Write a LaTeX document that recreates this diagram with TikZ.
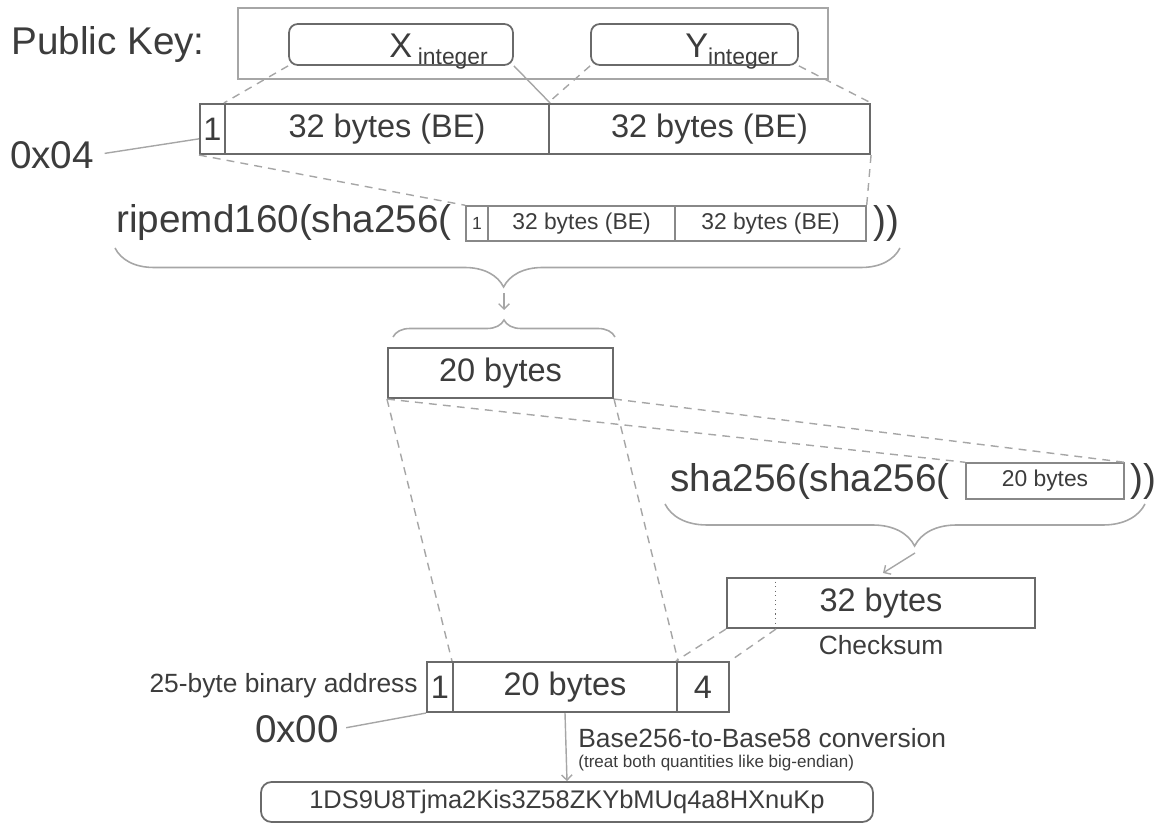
\documentclass[tikz,border=0pt]{standalone}
\usepackage{fontspec}
\setmainfont{Liberation Sans}
\usetikzlibrary{calc,arrows.meta,decorations.pathreplacing}

\definecolor{ink}{HTML}{3C3C3C}
\definecolor{frame}{HTML}{6A6A6A}
\definecolor{guide}{HTML}{A6A6A6}

\newcommand\subint[1]{\raisebox{-0.35ex}{\fontsize{13}{15}\selectfont #1}}

\begin{document}
\begin{tikzpicture}[x=0.02cm,y=-0.02cm,
	bigtext/.style={inner sep=0pt, text=ink, font=\fontsize{22}{26}\selectfont},
	labeltext/.style={inner sep=0pt, text=ink, font=\fontsize{15}{18}\selectfont},
	tinytext/.style={inner sep=0pt, text=ink, font=\fontsize{9.7}{12}\selectfont},
	cell/.style={draw=frame, line width=1.2pt, inner sep=0pt, text=ink, font=\fontsize{18.5}{22}\selectfont},
	smallcell/.style={draw=frame!80, line width=0.8pt, inner sep=0pt, text=ink, font=\fontsize{13}{15}\selectfont},
	intbox/.style={draw=frame, line width=1pt, rounded corners=5pt, inner sep=0pt},
	guideline/.style={draw=guide, line width=0.8pt, dash pattern=on 4.5pt off 3.5pt},
	pointer/.style={draw=guide, line width=0.8pt},
	bracedraw/.style={draw=guide, line width=0.9pt, decorate},
	smallarrow/.style={draw=guide, line width=0.8pt, -{Straight Barb[length=3pt,width=6pt]}}]
	\def\u{0.02cm}
	\useasboundingbox (0,0) rectangle (1163,827);

	% Public key with its two integers
	\node[draw=guide, line width=0.8pt, minimum width=590*\u, minimum height=71*\u] (pk) at (533,43.5) {};
	\node[bigtext, anchor=base west] (pklabel) at (11,55) {Public Key:};
	\node[intbox, minimum width=224*\u, minimum height=41*\u] (xint) at (401,44.5) {};
	\node[intbox, minimum width=207*\u, minimum height=41*\u] (yint) at (694.5,44.5) {};
	\node[bigtext, anchor=base west, font=\fontsize{19.5}{22}\selectfont] (xlab) at (389,58) {X\,\subint{integer}};
	\node[bigtext, anchor=base west, font=\fontsize{19.5}{22}\selectfont] (ylab) at (685,58) {Y\subint{integer}};

	% 65 bytes: prefix plus both coordinates
	\node[cell, minimum width=25*\u, minimum height=50*\u] (k1) at (212.5,129) {1};
	\node[cell, minimum width=324*\u, minimum height=50*\u] (kx) at (387,129) {32 bytes (BE)};
	\node[cell, minimum width=321*\u, minimum height=50*\u] (ky) at (709.5,129) {32 bytes (BE)};
	\node[bigtext] (hex04) at (52,155) {0x04};
	\draw[pointer, shorten <=6pt] (hex04.east) -- (k1.216);

	% Integers mapped onto the byte fields
	\draw[guideline] (xint.south west) -- (kx.north west);
	\draw[pointer] (xint.south east) -- (kx.north east);
	\draw[guideline] (yint.south west) -- (ky.north west);
	\draw[guideline] (yint.south east) -- (ky.north east);

	% First hash
	\node[bigtext, anchor=east] (ripe) at (452,223) {ripemd160(sha256(};
	\node[smallcell, minimum width=22*\u, minimum height=35*\u, font=\fontsize{10}{12}\selectfont] (r1) at (477,223.5) {1};
	\node[smallcell, minimum width=187*\u, minimum height=35*\u] (rx) at (581.5,223.5) {32 bytes (BE)};
	\node[smallcell, minimum width=191*\u, minimum height=35*\u] (ry) at (770.5,223.5) {32 bytes (BE)};
	\node[bigtext, anchor=west] (ripeclose) at (873,223) {))};
	\draw[guideline] (k1.south west) -- (r1.north west);
	\draw[guideline] (ky.south east) -- (ry.north east);

	% Brace down to the 20 byte result
	\coordinate (braceL) at (115,248);
	\coordinate (braceR) at (900,248);
	\draw[bracedraw, decoration={brace, mirror, amplitude=0.78cm, aspect=0.495}] (braceL) -- (braceR);
	\coordinate (tipA) at (504,293);
	\coordinate (tipB) at (504,310);
	\draw[smallarrow] (tipA) -- (tipB);
	\coordinate (capL) at (393,337);
	\coordinate (capR) at (615,337);
	\draw[bracedraw, decoration={brace, amplitude=0.34cm}] (capL) -- (capR);
	\node[cell, minimum width=225*\u, minimum height=50*\u] (h20) at (500.5,373) {20 bytes};

	% Second hash for the checksum
	\node[bigtext, anchor=east] (sha) at (950,481) {sha256(sha256(};
	\node[smallcell, minimum width=158*\u, minimum height=36*\u] (s20) at (1045,481) {20 bytes};
	\node[bigtext, anchor=west] (shaclose) at (1130,481) {))};
	\draw[guideline] (h20.south west) -- (s20.north west);
	\draw[guideline] (h20.south east) -- (s20.north east);
	\coordinate (shaL) at (665,504);
	\coordinate (shaR) at (1145,504);
	\draw[bracedraw, decoration={brace, mirror, amplitude=0.84cm, aspect=0.52}] (shaL) -- (shaR);
	\coordinate (tipC) at (915,553);
	\coordinate (tipD) at (883,573);
	\draw[smallarrow] (tipC) -- (tipD);

	% Checksum block
	\node[cell, minimum width=308*\u, minimum height=50*\u] (c32) at (881,603) {32 bytes};
	\coordinate (cdivtop) at ($(c32.north west)+(50,0)$);
	\coordinate (cdiv) at ($(c32.south west)+(50,0)$);
	\draw[frame, line width=0.6pt, dotted] (cdivtop) -- (cdiv);
	\node[labeltext] (chk) at (881,645) {Checksum};

	% 25 byte binary address
	\node[cell, minimum width=26*\u, minimum height=50*\u] (b1) at (440,687) {1};
	\node[cell, minimum width=224*\u, minimum height=50*\u] (b20) at (565,687) {20 bytes};
	\node[cell, minimum width=52*\u, minimum height=50*\u] (b4) at (703,687) {4};
	\node[labeltext, anchor=east] (binlab) at (418,686) {25-byte binary address};
	\node[bigtext] (hex00) at (297,729) {0x00};
	\draw[pointer, shorten <=4pt] (hex00.east) -- (b1.south west);
	\draw[guideline] (h20.south west) -- (b20.north west);
	\draw[guideline] (h20.south east) -- (b20.north east);
	\draw[guideline] (c32.south west) -- (b4.north west);
	\draw[guideline] (cdiv) -- (b4.north east);

	% Base58 encoding
	\node[draw=frame, line width=1pt, rounded corners=6pt, minimum width=612*\u, minimum height=40*\u, inner sep=0pt, text=ink, font=\fontsize{14.5}{17}\selectfont] (addr) at (567,802) {1DS9U8Tjma2Kis3Z58ZKYbMUq4a8HXnuKp};
	\draw[smallarrow] (b20.south) -- (addr.north);
	\node[labeltext, anchor=west] (convlab) at (578,738) {Base256-to-Base58 conversion};
	\node[tinytext, anchor=west] (convnote) at (578,763) {(treat both quantities like big-endian)};
\end{tikzpicture}
\end{document}
